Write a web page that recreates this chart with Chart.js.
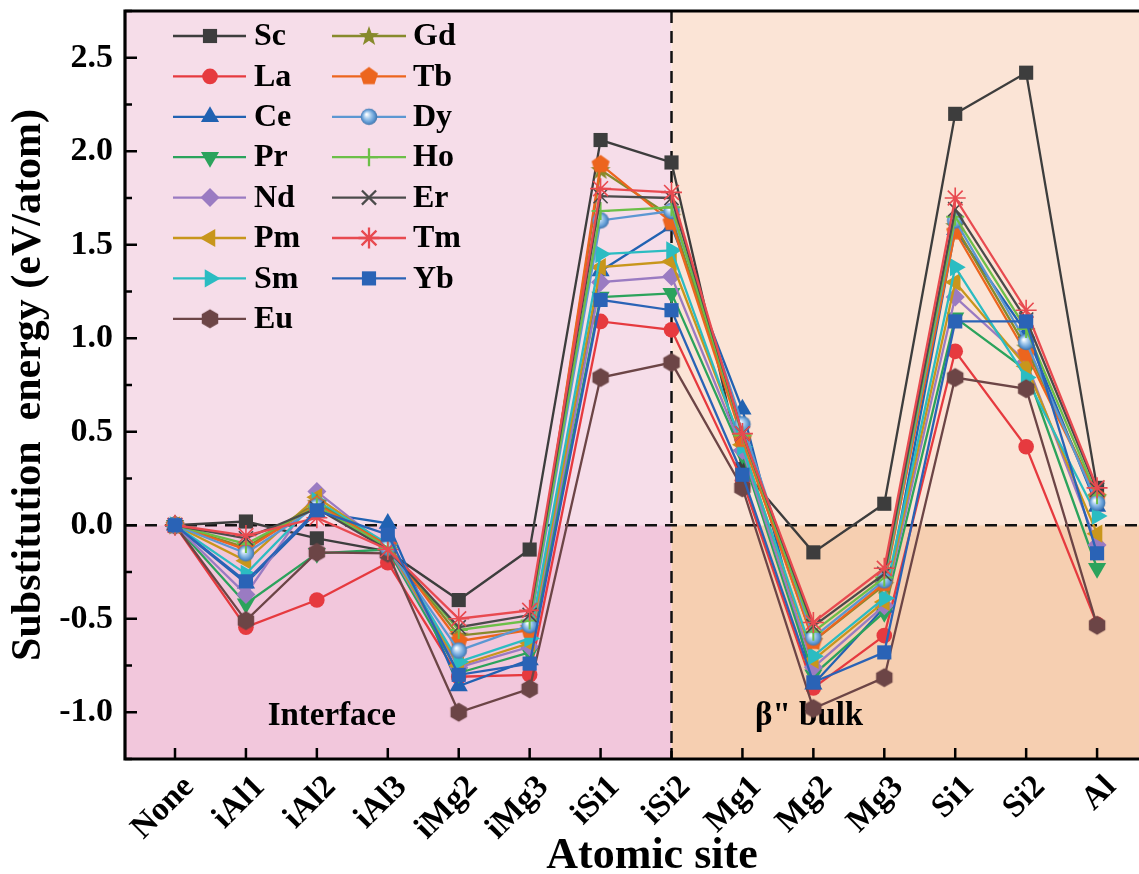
<!DOCTYPE html>
<html>
<head>
<meta charset="utf-8">
<script src="https://cdn.jsdelivr.net/npm/chart.js@4.4.1/dist/chart.umd.min.js"></script>
<style>
  html, body { margin: 0; padding: 0; background: #fff; overflow: hidden; width: 1139px; height: 874px; }
  #wrap { position: relative; width: 1180px; height: 874px; }
</style>
</head>
<body>
<div id="wrap"><canvas id="chart" width="1180" height="874"></canvas></div>
<script>
// Atomic sites (x categories)
const sites = ['None', 'iAl1', 'iAl2', 'iAl3', 'iMg2', 'iMg3', 'iSi1', 'iSi2',
               'Mg1', 'Mg2', 'Mg3', 'Si1', 'Si2', 'Al'];

// Substitution energy (eV/atom) for each rare-earth element
const Sc = [0, 0.02, -0.07, -0.14, -0.40, -0.13, 2.06, 1.94, 0.30, -0.145, 0.115, 2.20, 2.42, 0.20];
const La = [0, -0.545, -0.40, -0.20, -0.81, -0.80, 1.09, 1.045, 0.24, -0.87, -0.59, 0.93, 0.42, -0.53];
const Ce = [0, -0.31, 0.07, 0.01, -0.86, -0.72, 1.36, 1.60, 0.62, -0.85, -0.44, 1.58, 1.03, 0.10];
const Pr = [0, -0.42, -0.15, -0.13, -0.79, -0.68, 1.22, 1.24, 0.38, -0.80, -0.465, 1.11, 0.83, -0.23];
const Nd = [0, -0.37, 0.18, -0.12, -0.76, -0.65, 1.30, 1.33, 0.40, -0.76, -0.43, 1.22, 0.875, -0.105];
const Pm = [0, -0.19, 0.15, -0.11, -0.75, -0.63, 1.38, 1.41, 0.43, -0.72, -0.41, 1.30, 0.85, -0.045];
const Sm = [0, -0.26, 0.13, -0.10, -0.73, -0.605, 1.45, 1.47, 0.42, -0.70, -0.39, 1.38, 0.79, 0.05];
const Eu = [0, -0.51, -0.145, -0.15, -1.00, -0.875, 0.79, 0.87, 0.20, -0.98, -0.815, 0.79, 0.73, -0.535];
const Gd = [0, -0.12, 0.12, -0.11, -0.59, -0.55, 1.90, 1.65, 0.47, -0.62, -0.32, 1.60, 0.95, 0.15];
const Tb = [0, -0.13, 0.11, -0.11, -0.62, -0.56, 1.93, 1.62, 0.46, -0.62, -0.31, 1.57, 0.92, 0.15];
const Dy = [0, -0.15, 0.10, -0.12, -0.67, -0.535, 1.63, 1.68, 0.54, -0.60, -0.295, 1.63, 0.98, 0.12];
const Ho = [0, -0.10, 0.10, -0.12, -0.56, -0.51, 1.68, 1.70, 0.48, -0.57, -0.28, 1.65, 1.05, 0.16];
const Er = [0, -0.07, 0.09, -0.13, -0.545, -0.48, 1.76, 1.75, 0.49, -0.54, -0.26, 1.69, 1.10, 0.19];
const Tm = [0, -0.055, 0.04, -0.13, -0.50, -0.455, 1.80, 1.78, 0.49, -0.52, -0.23, 1.75, 1.15, 0.20];
const Yb = [0, -0.30, 0.08, -0.05, -0.80, -0.74, 1.205, 1.15, 0.27, -0.84, -0.68, 1.09, 1.09, -0.15];

// Y-axis labelled ticks
const yTickValues = [-1.0, -0.5, 0.0, 0.5, 1.0, 1.5, 2.0, 2.5];

const FONT = "'Liberation Serif', 'Times New Roman', serif";

// ---- custom marker glyphs -------------------------------------------------
function markerCanvas(size, paint) {
  const c = document.createElement('canvas');
  c.width = size; c.height = size;
  paint(c.getContext('2d'), size / 2);
  return c;
}
function polyPath(g, c, n, r, start) {
  g.beginPath();
  for (let k = 0; k < n; k++) {
    const a = start + k * 2 * Math.PI / n;
    const px = c + r * Math.cos(a), py = c + r * Math.sin(a);
    k ? g.lineTo(px, py) : g.moveTo(px, py);
  }
  g.closePath();
}
const starMark = color => markerCanvas(22, (g, c) => {
  g.beginPath();
  for (let k = 0; k < 10; k++) {
    const r = k % 2 ? 4.2 : 10.5;
    const a = -Math.PI / 2 + k * Math.PI / 5;
    const px = c + r * Math.cos(a), py = c + 0.5 + r * Math.sin(a);
    k ? g.lineTo(px, py) : g.moveTo(px, py);
  }
  g.closePath(); g.fillStyle = color; g.fill();
});
const polyMark = (color, n, r, start) => markerCanvas(22, (g, c) => {
  polyPath(g, c, n, r, start); g.fillStyle = color; g.fill();
});
const sphereMark = color => markerCanvas(20, (g, c) => {
  const grd = g.createRadialGradient(c - 2.5, c - 2.5, 0.5, c, c, 8.5);
  grd.addColorStop(0, '#ffffff');
  grd.addColorStop(0.35, '#a9cdee');
  grd.addColorStop(0.75, color);
  grd.addColorStop(1, '#3f6fa3');
  g.beginPath(); g.arc(c, c, 8.3, 0, 2 * Math.PI); g.fillStyle = grd; g.fill();
});

// ---- series styling -------------------------------------------------------
const series = [
  { name: 'Sc', values: Sc, color: '#3d3d3d', style: 'rect',     r: 10,  bw: 0 },
  { name: 'La', values: La, color: '#e63a3f', style: 'circle',   r: 7.8, bw: 0 },
  { name: 'Ce', values: Ce, color: '#2162b2', style: 'triangle', r: 10.5, bw: 0 },
  { name: 'Pr', values: Pr, color: '#2ba35c', style: 'triangle', r: 10.5, bw: 0, rot: 180 },
  { name: 'Nd', values: Nd, color: '#9a7bc2', style: 'rectRot',  r: 9.5, bw: 0 },
  { name: 'Pm', values: Pm, color: '#c8961c', style: 'triangle', r: 10.5, bw: 0, rot: -90 },
  { name: 'Sm', values: Sm, color: '#2bbcc2', style: 'triangle', r: 10.5, bw: 0, rot: 90 },
  { name: 'Eu', values: Eu, color: '#6c4546', style: null,       r: 9,   bw: 0, mark: c => polyMark(c, 6, 9.5, -Math.PI / 2) },
  { name: 'Gd', values: Gd, color: '#878a2c', style: null,       r: 9,   bw: 0, mark: c => starMark(c) },
  { name: 'Tb', values: Tb, color: '#ec651e', style: null,       r: 9,   bw: 0, mark: c => polyMark(c, 5, 9.5, -Math.PI / 2) },
  { name: 'Dy', values: Dy, color: '#5c97d2', style: null,       r: 8.5, bw: 0, mark: c => sphereMark(c) },
  { name: 'Ho', values: Ho, color: '#6cbf48', style: 'cross',    r: 9,   bw: 2 },
  { name: 'Er', values: Er, color: '#4b4b4b', style: 'crossRot', r: 10,  bw: 1.6 },
  { name: 'Tm', values: Tm, color: '#e84a50', style: 'star',     r: 10.5, bw: 1.6 },
  { name: 'Yb', values: Yb, color: '#2a63b6', style: 'rect',     r: 10,  bw: 0 }
];
series.forEach(s => { if (s.mark) s.style = s.mark(s.color); });

const datasets = series.map((s, i) => ({
  label: s.name,
  data: s.values.map((v, k) => ({ x: k, y: v })),
  borderColor: s.color,
  backgroundColor: s.color,
  borderWidth: 2.3,
  tension: 0,
  pointStyle: s.style,
  pointRotation: s.rot || 0,
  pointRadius: s.r,
  pointHoverRadius: s.r,
  pointBackgroundColor: s.color,
  pointBorderColor: s.color,
  pointBorderWidth: s.bw,
  order: 40 - i,
  clip: false
}));

// ---- plugins ----------------------------------------------------------------
const regionsPlugin = {
  id: 'regions',
  beforeDraw(chart) {
    const { ctx, chartArea: a, scales: { x, y } } = chart;
    const xs = x.getPixelForValue(7);
    const y0 = y.getPixelForValue(0);
    ctx.save();
    ctx.fillStyle = '#f6dde9'; ctx.fillRect(a.left, a.top, xs - a.left, y0 - a.top);
    ctx.fillStyle = '#f2c7dc'; ctx.fillRect(a.left, y0, xs - a.left, a.bottom - y0);
    ctx.fillStyle = '#fbe4d6'; ctx.fillRect(xs, a.top, a.right - xs, y0 - a.top);
    ctx.fillStyle = '#f6cfb1'; ctx.fillRect(xs, y0, a.right - xs, a.bottom - y0);
    ctx.restore();
  },
  beforeDatasetsDraw(chart) {
    const { ctx, chartArea: a, scales: { x, y } } = chart;
    const xs = x.getPixelForValue(7);
    const y0 = y.getPixelForValue(0);
    ctx.save();
    ctx.strokeStyle = '#111';
    ctx.lineWidth = 2.5;
    ctx.setLineDash([12, 8]);
    ctx.beginPath();
    ctx.moveTo(a.left, y0); ctx.lineTo(a.right, y0);
    ctx.moveTo(xs, a.top); ctx.lineTo(xs, a.bottom);
    ctx.stroke();
    ctx.setLineDash([]);
    // region captions
    ctx.fillStyle = '#000';
    ctx.font = `bold 33px ${FONT}`;
    ctx.textAlign = 'center';
    ctx.textBaseline = 'middle';
    ctx.fillText('Interface', x.getPixelForValue(2.21), y.getPixelForValue(-1.02));
    ctx.fillText('\u03B2" bulk', x.getPixelForValue(8.94), y.getPixelForValue(-1.02));
    ctx.restore();
  }
};

const framePlugin = {
  id: 'frame',
  afterDraw(chart) {
    const { ctx, chartArea: a, scales: { x, y } } = chart;
    ctx.save();
    ctx.strokeStyle = '#000';
    ctx.lineWidth = 2.5;
    ctx.beginPath();
    sites.forEach((_, i) => {
      const px = x.getPixelForValue(i);
      ctx.moveTo(px, a.bottom); ctx.lineTo(px, a.bottom - 11);
    });
    for (let k = 0; k <= 16; k++) {
      const v = -1.25 + k * 0.25;
      const py = y.getPixelForValue(v);
      const major = Math.abs(v * 2 - Math.round(v * 2)) < 1e-6;
      ctx.moveTo(a.left, py); ctx.lineTo(a.left + (major ? 12 : 7), py);
    }
    ctx.stroke();
    ctx.lineWidth = 3.2;
    ctx.beginPath();
    ctx.moveTo(a.right, a.top); ctx.lineTo(a.left, a.top);
    ctx.lineTo(a.left, a.bottom); ctx.lineTo(a.right, a.bottom);
    ctx.stroke();
    ctx.restore();
  }
};

const legendPlugin = {
  id: 'seriesLegend',
  afterDraw(chart) {
    const { ctx } = chart;
    const cols = [{ x1: 173, x2: 246, mx: 210, tx: 254 }, { x1: 332, x2: 406, mx: 369, tx: 413 }];
    const rowTop = 36, rowGap = 40.4;
    ctx.save();
    series.forEach((s, i) => {
      const col = cols[i < 8 ? 0 : 1];
      const yy = rowTop + (i < 8 ? i : i - 8) * rowGap;
      ctx.strokeStyle = s.color;
      ctx.lineWidth = 2.3;
      ctx.beginPath(); ctx.moveTo(col.x1, yy); ctx.lineTo(col.x2, yy); ctx.stroke();
      ctx.fillStyle = s.color;
      Chart.helpers.drawPoint(ctx, {
        pointStyle: s.style, radius: s.r, rotation: s.rot || 0, borderWidth: s.bw
      }, col.mx, yy);
      ctx.fillStyle = '#000';
      ctx.font = `bold 32px ${FONT}`;
      ctx.textAlign = 'left';
      ctx.textBaseline = 'middle';
      ctx.fillText(s.name, col.tx, yy + 1);
    });
    ctx.restore();
  }
};

// keep the plot frame exactly where the layout puts it
const noEdgePadding = s => {
  s.paddingLeft = 0; s.paddingRight = 0; s.paddingTop = 0; s.paddingBottom = 0;
};

new Chart(document.getElementById('chart'), {
  type: 'line',
  data: { datasets },
  options: {
    responsive: false,
    animation: false,
    events: [],
    layout: { autoPadding: false, padding: { top: 11, right: 1, left: 0, bottom: 0 } },
    plugins: { legend: { display: false }, title: { display: false }, tooltip: { enabled: false } },
    scales: {
      x: {
        type: 'linear',
        min: -0.705,
        max: 14.155,
        afterBuildTicks: s => { s.ticks = sites.map((_, i) => ({ value: i })); },
        afterFit: s => { s.height = 115; noEdgePadding(s); },
        grid: { display: false, drawTicks: false },
        border: { display: false },
        ticks: {
          autoSkip: false,
          minRotation: 45,
          maxRotation: 45,
          padding: 9,
          labelOffset: 14,
          color: '#000',
          font: { family: FONT, size: 33, weight: 'bold' },
          callback: v => sites[v]
        },
        title: {
          display: true,
          text: 'Atomic site',
          color: '#000',
          font: { family: FONT, size: 44, weight: 'bold' },
          padding: { top: 0, bottom: -9 }
        }
      },
      y: {
        type: 'linear',
        min: -1.25,
        max: 2.75,
        afterBuildTicks: s => { s.ticks = yTickValues.map(v => ({ value: v })); },
        afterFit: s => { s.width = 125; noEdgePadding(s); },
        grid: { display: false, drawTicks: false },
        border: { display: false },
        ticks: {
          padding: 12,
          color: '#000',
          font: { family: FONT, size: 34, weight: 'bold' },
          callback: v => v.toFixed(1)
        },
        title: {
          display: true,
          text: 'Substitution  energy (eV/atom)',
          color: '#000',
          font: { family: FONT, size: 42, weight: 'bold' },
          padding: { top: 4, bottom: 0 }
        }
      }
    }
  },
  plugins: [regionsPlugin, framePlugin, legendPlugin]
});
</script>
</body>
</html>
